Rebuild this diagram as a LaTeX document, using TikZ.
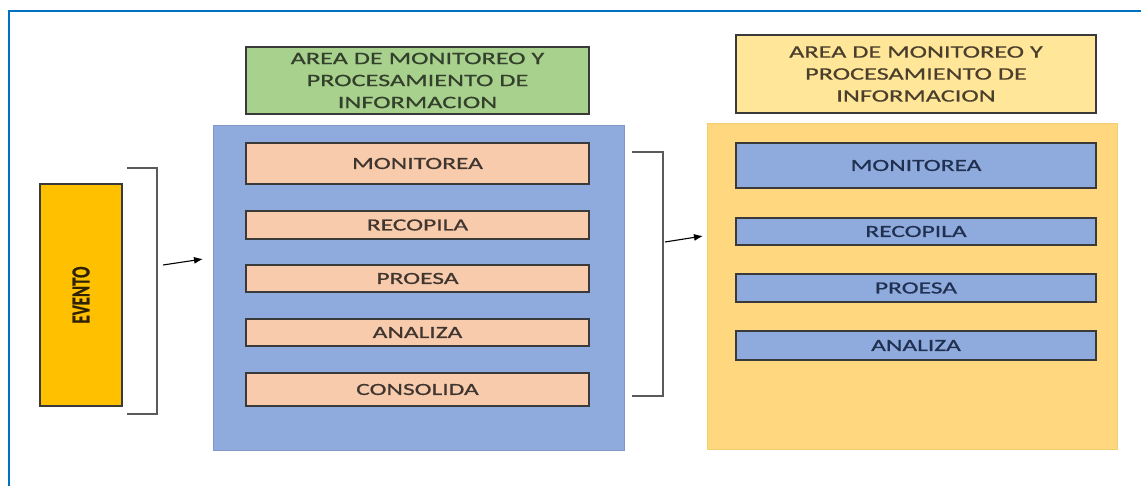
\documentclass[tikz,border=0pt]{standalone}
\usepackage{fontspec}
\setmainfont{Carlito}
\newfontfamily\wfont[FakeStretch=1.5,FakeBold=0.7]{Carlito}
\newfontfamily\evfont[FakeBold=0.8]{Carlito}
\usetikzlibrary{arrows.meta}
\definecolor{bord}{HTML}{0070C0}
\definecolor{evfill}{HTML}{FFC000}
\definecolor{grfill}{HTML}{A9D18E}
\definecolor{blfill}{HTML}{8FAADC}
\definecolor{bledge}{HTML}{7F97C9}
\definecolor{orfill}{HTML}{F8CBAD}
\definecolor{yefill}{HTML}{FFD77F}
\definecolor{yeedge}{HTML}{F2CE6E}
\definecolor{ytfill}{HTML}{FFE699}
\definecolor{boxedge}{HTML}{3A3A3A}
\definecolor{brk}{HTML}{5A5A5A}
\definecolor{txgray}{HTML}{403630}
\definecolor{txgreen}{HTML}{33402C}
\definecolor{txnavy}{HTML}{1F3050}
\definecolor{txbrown}{HTML}{4A3F2C}
\definecolor{txev}{HTML}{2E2200}
\tikzset{
  box/.style={draw=boxedge, line width=1.1pt, inner sep=0pt, align=center},
  titlebox/.style={box, font=\wfont\fontsize{17.5}{22}\selectfont},
  stepbox/.style={box, fill=orfill, text=txgray, font=\wfont\fontsize{17}{18}\selectfont},
  rstepbox/.style={box, fill=blfill, text=txnavy, font=\wfont\fontsize{17}{18}\selectfont},
  bigbox/.style={inner sep=0pt, line width=1pt},
  bracket/.style={draw=brk, line width=1.3pt},
  conn/.style={draw=black, line width=1.1pt, -{Latex[length=9pt,width=7pt]}}
}
\begin{document}
\begin{tikzpicture}[x=1pt,y=-1pt]
\useasboundingbox (0,0) rectangle (1141,486);
% frame
\draw[bord, line width=2pt] (9,486) -- (9,11) -- (1141,11);
% evento
\node[box, fill=evfill, minimum width=222pt, minimum height=82pt, rotate=90,
      font=\evfont\fontsize{26}{26}\selectfont\bfseries, text=txev] (ev) at (81,295)
      {\scalebox{0.65}[1]{EVENTO}};
% left area
\node[titlebox, fill=grfill, text=txgreen, minimum width=343pt, minimum height=67pt] (t1) at (417.5,80.5)
  {AREA DE MONITOREO Y\\PROCESAMIENTO DE\\INFORMACION};
\node[bigbox, fill=blfill, draw=bledge, minimum width=411pt, minimum height=324pt] (a1) at (418.5,288) {};
\node[stepbox, minimum width=343pt, minimum height=41pt] (m1) at (417.5,163.5) {MONITOREA};
\node[stepbox, minimum width=343pt, minimum height=28pt] (r1) at (417.5,225) {RECOPILA};
\node[stepbox, minimum width=343pt, minimum height=27pt] (p1) at (417.5,278.5) {PROESA};
\node[stepbox, minimum width=343pt, minimum height=27pt] (n1) at (417.5,332.5) {ANALIZA};
\node[stepbox, minimum width=343pt, minimum height=33pt] (c1) at (417.5,389.5) {CONSOLIDA};
% right area
\node[titlebox, fill=ytfill, text=txbrown, minimum width=360pt, minimum height=78pt] (t2) at (916,74)
  {AREA DE MONITOREO Y\\PROCESAMIENTO DE\\INFORMACION};
\node[bigbox, fill=yefill, draw=yeedge, minimum width=410pt, minimum height=325pt] (a2) at (912,286.5) {};
\node[rstepbox, minimum width=360pt, minimum height=45pt] (m2) at (916,165.5) {MONITOREA};
\node[rstepbox, minimum width=360pt, minimum height=27pt] (r2) at (916,231.5) {RECOPILA};
\node[rstepbox, minimum width=360pt, minimum height=28pt] (p2) at (916,288) {PROESA};
\node[rstepbox, minimum width=360pt, minimum height=29pt] (n2) at (916,345.5) {ANALIZA};
% brackets
\draw[bracket] (127,168) -- (157,168) -- (157,414) -- (127,414);
\draw[bracket] (632,152) -- (663,152) -- (663,396) -- (632,396);
\coordinate (b1) at (163,265);
\coordinate (e1) at (203,259);
\coordinate (b2) at (665,242);
\coordinate (e2) at (703,236);
\draw[conn] (b1) -- (e1);
\draw[conn] (b2) -- (e2);
\end{tikzpicture}
\end{document}
